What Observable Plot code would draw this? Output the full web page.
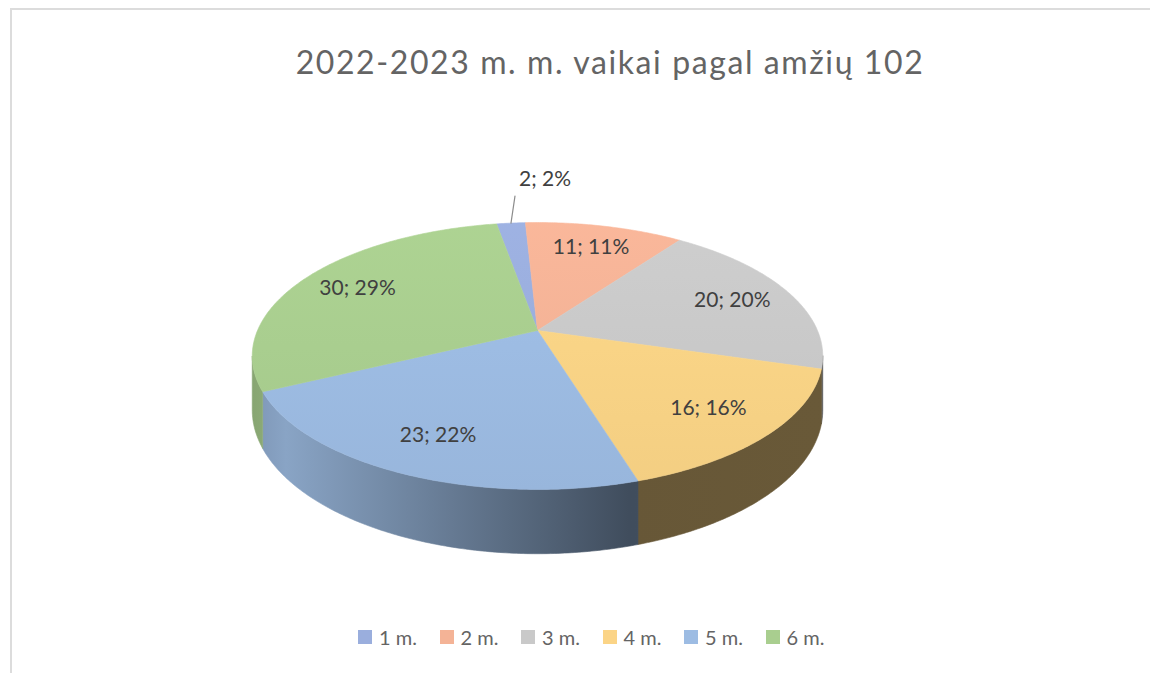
<!DOCTYPE html>
<html><head><meta charset="utf-8">
<script src="https://cdn.jsdelivr.net/npm/d3@7"></script>
<script src="https://cdn.jsdelivr.net/npm/@observablehq/plot@0.6"></script>
<style>
html,body{margin:0;padding:0;background:#fff;}
body{width:1150px;height:673px;overflow:hidden;position:relative;font-family:Lato,"Open Sans",sans-serif;}
#frame{position:absolute;left:10px;top:8px;width:1300px;height:800px;border-top:2px solid #dcdcdc;border-left:2px solid #dcdcdc;}
#title{position:absolute;left:0;top:46px;width:1220px;text-align:center;font-size:32px;line-height:32px;letter-spacing:1.6px;color:#646464;white-space:nowrap;}
#chart{position:absolute;left:0;top:100px;}
#legend{position:absolute;left:358px;top:626px;display:flex;align-items:center;font-size:20px;line-height:22px;color:#646464;white-space:nowrap;}
#legend .item{display:flex;align-items:center;width:81.5px;}
#legend .sw{width:14px;height:14px;margin-right:7px;}
</style>
</head><body>
<div id="frame"></div>
<div id="title">2022-2023 m. m. vaikai pagal amžių 102</div>
<div id="chart"></div>
<div id="legend"></div>
<script>
const categories = ["1 m.", "2 m.", "3 m.", "4 m.", "5 m.", "6 m."];
const values = [2, 11, 20, 16, 23, 30];
const percents = [2, 11, 20, 16, 22, 29];
const colors = ["#9AAEDD", "#F4B396", "#C9C9C9", "#FBD486", "#9DBCE3", "#A9CE8F"];

// view / 3D projection settings
const W = 1150, H = 500;
const CX = 537, CY = 230;          // pie centre inside the svg
const RX = 280, RY = 128.6, K = 0.191, DEPTH = 52;
const ROT = -10 * Math.PI / 180;
const LABEL_R = 0.77;

function proj(a, r, d = 0) {
  const X = r * Math.sin(a), Y = -r * Math.cos(a);
  const f = 1 / (1 - K * Y);
  return [X * RX * f, Y * RY * f + d * f];
}
function arcPts(a1, a2, r, d) {
  const n = Math.max(2, Math.ceil(Math.abs(a2 - a1) / 0.01));
  const pts = [];
  for (let i = 0; i <= n; i++) pts.push(proj(a1 + (a2 - a1) * i / n, r, d));
  return pts;
}

const arcs = d3.pie().sort(null).value(d => d).startAngle(ROT).endAngle(ROT + 2 * Math.PI)(values);

// side walls (front, visible part)
const aR = Math.acos(-K), aL = 2 * Math.PI - aR;
const sideRows = [];
arcs.forEach((a, i) => {
  const a1 = Math.max(a.startAngle, aR), a2 = Math.min(a.endAngle, aL);
  if (a1 >= a2) return;
  const pts = arcPts(a1, a2, 1, 0).concat(arcPts(a2, a1, 1, DEPTH));
  pts.push(pts[0]);
  pts.forEach(([x, y]) => sideRows.push({id: "s" + i, x, y, fill: `url(#side${i})`}));
});

// top faces
const topRows = [];
arcs.forEach((a, i) => {
  const pts = [[0, 0]].concat(arcPts(a.startAngle, a.endAngle, 1, 0));
  pts.push([0, 0]);
  pts.forEach(([x, y]) => topRows.push({id: "t" + i, x, y, fill: `url(#top${i})`}));
});

// labels
const inLabels = [], outLabels = [], leaders = [];
arcs.forEach((a, i) => {
  const mid = (a.startAngle + a.endAngle) / 2;
  const text = `${values[i]}; ${percents[i]}%`;
  if (values[i] / d3.sum(values) < 0.05) {
    const [ex, ey] = proj(mid, 1, 0);
    const lx = ex + 4, ly = ey - 27;
    leaders.push({id: i, x: ex, y: ey}, {id: i, x: lx, y: ly});
    outLabels.push({x: lx, y: ly, text});
  } else {
    const [x, y] = proj(mid, LABEL_R, 0);
    inLabels.push({x, y, text});
  }
});

const plot = Plot.plot({
  width: W, height: H,
  margin: 0,
  x: {domain: [-CX, W - CX], range: [0, W], axis: null},
  y: {domain: [-CY, H - CY], range: [0, H], axis: null},
  color: {type: "identity"},
  style: {background: "transparent", overflow: "visible"},
  marks: [
    Plot.line(sideRows, {x: "x", y: "y", z: "id", fill: "fill", stroke: "fill", strokeWidth: 0.6, curve: "linear"}),
    Plot.line(topRows, {x: "x", y: "y", z: "id", fill: "fill", stroke: "fill", strokeWidth: 0.6, curve: "linear"}),
    Plot.line(leaders, {x: "x", y: "y", z: "id", stroke: "#8c8c8c", strokeWidth: 1.2}),
    Plot.text(inLabels, {x: "x", y: "y", text: "text", fill: "#404040", fontSize: 21, fontFamily: "Lato"}),
    Plot.text(outLabels, {x: "x", y: "y", text: "text", fill: "#404040", fontSize: 21, fontFamily: "Lato", textAnchor: "start", dx: 4, dy: -17})
  ]
});

// gradients
const xs = plot.scale("x"), ys = plot.scale("y");
function shade(c, f) {
  const r = d3.rgb(c);
  return d3.rgb(Math.min(255, r.r * f), Math.min(255, r.g * f), Math.min(255, r.b * f)).formatHex();
}
let defs = "";
colors.forEach((c, i) => {
  defs += `<linearGradient id="side${i}" gradientUnits="userSpaceOnUse" x1="${xs.apply(-RX * 1.02)}" y1="0" x2="${xs.apply(RX * 1.02)}" y2="0">
    <stop offset="0" stop-color="${shade(c, 0.8)}"/>
    <stop offset="0.06" stop-color="${shade(c, 0.87)}"/>
    <stop offset="0.66" stop-color="${shade(c, 0.41)}"/>
    <stop offset="1" stop-color="${shade(c, 0.42)}"/>
  </linearGradient>`;
  defs += `<linearGradient id="top${i}" gradientUnits="userSpaceOnUse" x1="0" y1="${ys.apply(-RY)}" x2="0" y2="${ys.apply(RY * 1.25)}">
    <stop offset="0" stop-color="${shade(c, 1.03)}"/>
    <stop offset="1" stop-color="${shade(c, 0.97)}"/>
  </linearGradient>`;
});
const defsEl = document.createElementNS("http://www.w3.org/2000/svg", "defs");
defsEl.innerHTML = defs;
plot.insertBefore(defsEl, plot.firstChild);
document.getElementById("chart").appendChild(plot);

// legend
const legend = d3.select("#legend");
categories.forEach((c, i) => {
  const it = legend.append("div").attr("class", "item");
  it.append("div").attr("class", "sw").style("background", colors[i]);
  it.append("span").text(c);
});
</script>
</body></html>
